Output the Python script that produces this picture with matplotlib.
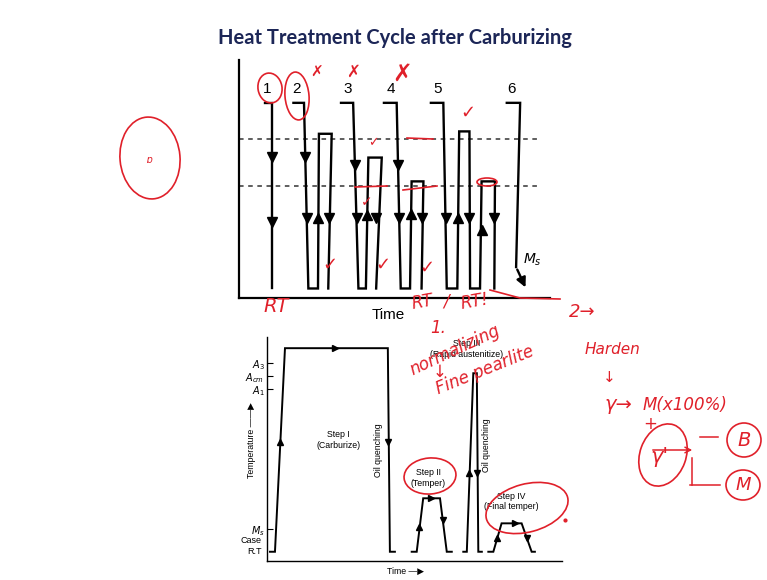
import numpy as np
import matplotlib.pyplot as plt
from matplotlib.patches import Ellipse

# ---------------- top panel: six paths (time 0-100, temperature 0-100) ----------------
P1_T = [8.4, 10.5, 10.5]
P1_Y = [82, 82, 4]
P2_T = [17.5, 20.9, 22.3, 25.4, 25.7, 29.8, 28.7]
P2_Y = [82, 82, 4, 4, 69, 69, 4]
P3_T = [32.8, 36.7, 38.4, 40.8, 41.6, 45.9, 44.1]
P3_Y = [82, 82, 4, 4, 59, 59, 4]
P4_T = [46.6, 50.7, 52.0, 55.0, 55.5, 59.3, 58.7]
P4_Y = [82, 82, 4, 4, 49, 49, 4]
P5_T = [61.7, 65.7, 66.8, 70.2, 70.8, 74.1, 74.3, 77.5, 78.0, 82.3, 82.1]
P5_Y = [82, 82, 4, 4, 70, 70, 4, 4, 49, 49, 4]
P6_T = [86.1, 90.4, 89.1]
P6_Y = [82, 82, 13]
P6_END = (92.5, 3.4)
PATH_LABELS = ["1", "2", "3", "4", "5", "6"]
LABEL_T = [9.2, 18.5, 35.0, 48.8, 63.8, 87.7]
DASH_LEVELS = [67, 47]

TOP_DOWN_T = [10.5, 10.5, 21.2, 21.8, 28.9, 37.3, 37.8, 44.2, 51.2, 51.6, 58.9, 66.6, 74.1, 82.1]
TOP_DOWN_Y = [59.4, 32, 59.4, 33.5, 33.5, 55.9, 33.5, 33.5, 55.9, 33.5, 33.5, 33.5, 33.5, 33.5]
TOP_UP_T = [25.5, 41.0, 55.3, 70.5, 78.0]
TOP_UP_Y = [33.5, 34.9, 35.3, 33.5, 28.6]

# ---------------- bottom panel: carburizing cycle ----------------
CARB_T = [0.9, 2.6, 6.0, 40.9, 41.6, 43.3]
CARB_Y = [4, 4, 95, 95, 4, 4]
TEMP2_T = [49.0, 50.7, 52.9, 58.6, 60.9, 62.6]
TEMP2_Y = [4, 4, 27.9, 27.9, 4, 4]
AUST_T = [66.5, 67.7, 69.9, 71.1, 71.6, 72.8]
AUST_Y = [4, 4, 83.8, 83.8, 4, 4]
TEMP4_T = [75.0, 76.7, 79.5, 86.3, 89.7, 90.8]
TEMP4_Y = [4, 4, 16.7, 16.7, 4, 4]

BOT_UP_T = [4.3, 51.6, 68.5, 78.0]
BOT_UP_Y = [53.2, 15.2, 39.1, 10.0]
BOT_DOWN_T = [41.1, 59.7, 71.3, 88.0]
BOT_DOWN_Y = [53.2, 18.2, 39.1, 10.0]
BOT_RIGHT_T = [23.0, 55.4, 84.0]
BOT_RIGHT_Y = [95, 27.9, 16.7]

LEVELS = [88.2, 82.7, 76.6, 14.2]
LEVEL_LABELS = ["$A_3$", "$A_{cm}$", "$A_1$", "$M_s$"]
RT_LEVEL = 4

W, H = 767, 580
fig = plt.figure(figsize=(W / 100, H / 100), dpi=100)
fig.patch.set_facecolor("white")
SANS = ["Liberation Sans", "DejaVu Sans"]

def box(l, t, r, b):
    return [l / W, 1 - b / H, (r - l) / W, (b - t) / H]

fig.text(395 / W, 1 - 38 / H, "Heat Treatment Cycle after Carburizing",
         ha="center", va="center", fontsize=14.5, fontweight="bold",
         family="Lato", color="#1c2657")

# ---------- top axes ----------
ax = fig.add_axes(box(239, 60, 550, 298))
for s in ["top", "right"]:
    ax.spines[s].set_visible(False)
for s in ["left", "bottom"]:
    ax.spines[s].set_linewidth(1.6)
ax.set_xticks([]); ax.set_yticks([])
ax.set_xlim(0, 100); ax.set_ylim(0, 100)
for lv in DASH_LEVELS:
    ax.plot([0, 97], [lv, lv], color="#333333", lw=1.1, ls=(0, (3, 3)))
for pt, py in [(P1_T, P1_Y), (P2_T, P2_Y), (P3_T, P3_Y), (P4_T, P4_Y), (P5_T, P5_Y), (P6_T, P6_Y)]:
    ax.plot(pt, py, color="black", lw=1.7, solid_joinstyle="miter")
ax.annotate("", xy=P6_END, xytext=(P6_T[-1], P6_Y[-1]),
            arrowprops=dict(arrowstyle="-|>", color="black", lw=1.7, mutation_scale=14))
ax.plot(TOP_DOWN_T, TOP_DOWN_Y, "v", color="black", ms=6.5, ls="none")
ax.plot(TOP_UP_T, TOP_UP_Y, "^", color="black", ms=6.5, ls="none")
for lab, t in zip(PATH_LABELS, LABEL_T):
    ax.text(t, 88, lab, ha="center", va="center", fontsize=11, family=SANS)
ax.text(94.5, 16, "$M_s$", ha="center", va="center", fontsize=10)
ax.text(48, -7, "Time", ha="center", va="center", fontsize=11, family=SANS)

# ---------- bottom axes ----------
bx = fig.add_axes(box(267.3, 337, 562, 560.7))
for s in ["top", "right"]:
    bx.spines[s].set_visible(False)
for s in ["left", "bottom"]:
    bx.spines[s].set_linewidth(1.0)
bx.set_xlim(0, 100); bx.set_ylim(0, 100)
bx.set_xticks([])
bx.set_yticks(LEVELS)
bx.set_yticklabels(LEVEL_LABELS, fontsize=7)
bx.tick_params(axis="y", direction="in", length=4, width=0.8, pad=2)
for pt, py in [(CARB_T, CARB_Y), (TEMP2_T, TEMP2_Y), (AUST_T, AUST_Y), (TEMP4_T, TEMP4_Y)]:
    bx.plot(pt, py, color="black", lw=1.4, solid_joinstyle="miter")
bx.plot(BOT_UP_T, BOT_UP_Y, "^", color="black", ms=4.5, ls="none")
bx.plot(BOT_DOWN_T, BOT_DOWN_Y, "v", color="black", ms=4.5, ls="none")
bx.plot(BOT_RIGHT_T, BOT_RIGHT_Y, ">", color="black", ms=4.5, ls="none")
small = dict(ha="center", va="center", fontsize=6.3, family=SANS, linespacing=1.2)
bx.text(-2, RT_LEVEL, "R.T", ha="right", va="center", fontsize=6.5, family=SANS)
bx.text(-2, RT_LEVEL + 5, "Case", ha="right", va="center", fontsize=6.5, family=SANS)
bx.text(24.1, 54.0, "Step I\n(Carburize)", **small)
bx.text(37.7, 49.5, "Oil quenching", rotation=90, **small)
bx.text(74.4, 51.7, "Oil quenching", rotation=90, **small)
bx.text(54.6, 37.0, "Step II\n(Temper)", **small)
bx.text(67.7, 94.6, "Step III\n(Rapid austenitize)", **small)
bx.text(82.9, 26.4, "Step IV\n(Final temper)", **small)
bx.text(-5.5, 54, "Temperature \u2014\u2014\u25b6", rotation=90, **small)
bx.text(47, -5, "Time \u2014\u25b6", **small)

# ---------- red pen annotations (figure pixel space) ----------
pen = fig.add_axes([0, 0, 1, 1], zorder=10)
pen.set_xlim(0, W); pen.set_ylim(H, 0); pen.axis("off"); pen.patch.set_alpha(0)
red = "#e0202a"
hand = dict(color=red, family="DejaVu Sans", style="italic")

def ring(x, y, w, h, ang=0, lw=1.2):
    pen.add_patch(Ellipse((x, y), w, h, angle=ang, fill=False, ec=red, lw=lw))

ring(150, 158, 60, 82, ang=-5)
pen.text(150, 160, "\u0252", fontsize=7, ha="center", va="center", **hand)
ring(270, 88, 24, 30, ang=-10)
ring(297, 96, 24, 48, ang=-5)
ring(430, 476, 52, 36, ang=-5)
ring(527, 508, 84, 48, ang=-15)
ring(487, 182, 20, 8)
for x, y, s in [(317, 72, 11), (353, 72, 12), (402, 74, 17)]:
    pen.text(x, y, "\u2717", fontsize=s, ha="center", va="center", color=red)
for x, y, s in [(468, 113, 13), (330, 265, 13), (383, 265, 13), (427, 268, 13), (373, 143, 9), (367, 202, 10)]:
    pen.text(x, y, "\u2713", fontsize=s, ha="center", va="center", color=red)
pen.plot([407, 433], [138, 139], color=red, lw=1.2)
pen.plot([355, 387], [187, 186], color=red, lw=1.2)
pen.plot([403, 437], [190, 186], color=red, lw=1.2)
pen.plot([490, 520, 560], [290, 298, 299], color=red, lw=1.2)
pen.text(276, 306, "RT", fontsize=14, ha="center", va="center", **hand)
pen.text(422, 302, "RT", fontsize=12, ha="center", va="center", rotation=10, **hand)
pen.text(446, 302, "/", fontsize=12, ha="center", va="center", **hand)
pen.text(475, 302, "RT!", fontsize=12, ha="center", va="center", rotation=10, **hand)
pen.text(438, 328, "1.", fontsize=12, ha="center", va="center", **hand)
pen.text(455, 350, "normalizing", fontsize=12, ha="center", va="center", rotation=25, **hand)
pen.text(440, 372, "\u2193", fontsize=12, ha="center", va="center", **hand)
pen.text(485, 370, "Fine pearlite", fontsize=12, ha="center", va="center", rotation=22, **hand)
pen.text(582, 312, "2\u2192", fontsize=13, ha="center", va="center", **hand)
pen.text(612, 350, "Harden", fontsize=11, ha="center", va="center", **hand)
pen.text(609, 378, "\u2193", fontsize=11, ha="center", va="center", **hand)
pen.text(618, 405, "\u03b3\u2192", fontsize=14, ha="center", va="center", **hand)
pen.text(685, 405, "M(x100%)", fontsize=12, ha="center", va="center", **hand)
pen.text(650, 424, "+", fontsize=12, ha="center", va="center", **hand)
ring(663, 455, 46, 64, ang=20)
pen.text(660, 457, "\u03b3'", fontsize=15, ha="center", va="center", **hand)
pen.annotate("", xy=(695, 450), xytext=(650, 450),
             arrowprops=dict(arrowstyle="->", color=red, lw=1.1))
pen.plot([690, 720], [485, 485], color=red, lw=1.1)
pen.plot([692, 692], [458, 485], color=red, lw=1.1)
pen.plot([700, 718], [437, 437], color=red, lw=1.1)
ring(744, 440, 34, 34)
pen.text(744, 440, "B", fontsize=14, ha="center", va="center", **hand)
ring(743, 485, 34, 30)
pen.text(743, 485, "M", fontsize=13, ha="center", va="center", **hand)
pen.plot([565], [520], "o", color=red, ms=2)

fig.savefig("out.png", dpi=100)
